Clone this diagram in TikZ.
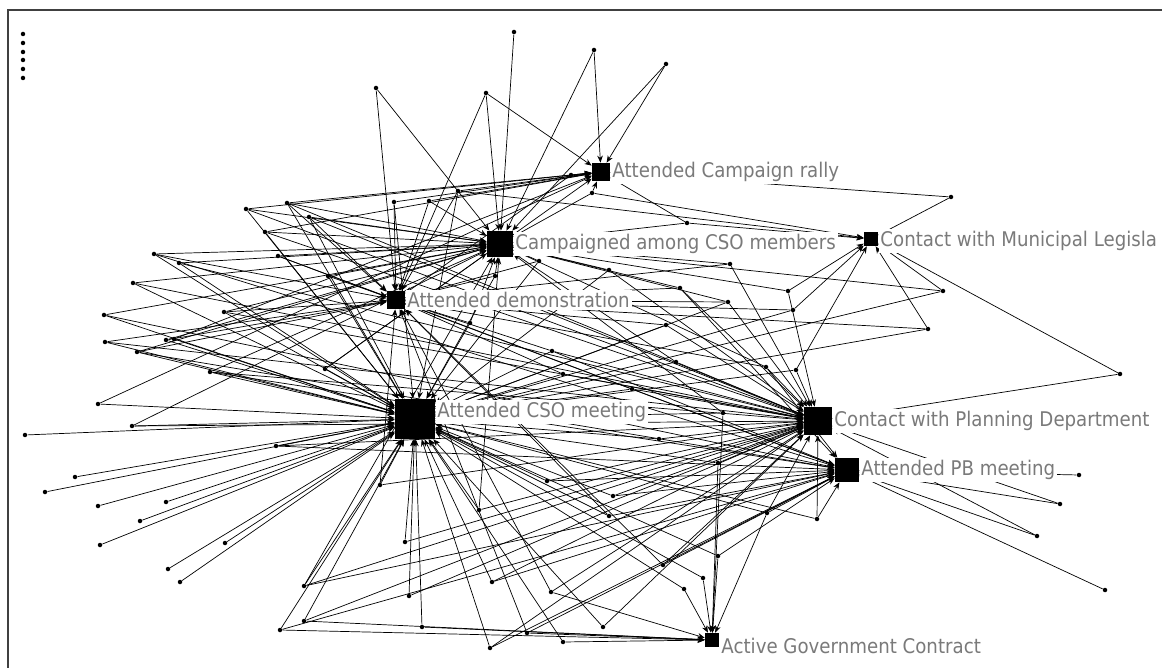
\documentclass[tikz,border=0pt]{standalone}
\usepackage{fontspec}
\setmainfont{DejaVu Sans}[FakeStretch=0.9]
\usetikzlibrary{positioning,arrows.meta}

\tikzset{
  hub/.style={fill=black,inner sep=0pt},
  actor/.style={circle,fill=black,inner sep=0pt,minimum size=0.09cm},
  tie/.style={-{Stealth[length=4pt,width=3.2pt]},line width=0.4pt},
  lab/.style={fill=white,text=black!52,inner sep=1pt,font=\fontsize{11.5}{13}\selectfont},
}

\begin{document}
\begin{tikzpicture}[x=0.02cm,y=-0.02cm]
     \useasboundingbox (0,0) rectangle (1162,668);
     \clip (0,0) rectangle (1162,668);
     \draw[black!75,line width=1pt] (8,668) -- (8,10) -- (1162,10);

     % events
     \node[hub,minimum size=0.36cm] (R) at (601,172) {};
     \node[hub,minimum size=0.52cm] (C) at (500,244) {};
     \node[hub,minimum size=0.28cm] (M) at (871,239) {};
     \node[hub,minimum size=0.36cm] (D) at (396,300) {};
     \node[hub,minimum size=0.80cm] (S) at (415,419) {};
     \node[hub,minimum size=0.56cm] (P) at (818,421) {};
     \node[hub,minimum size=0.48cm] (B) at (847,470) {};
     \node[hub,minimum size=0.28cm] (G) at (712,640) {};

     % isolates
     \foreach \n/\y in {i1/34,i2/43,i3/52,i4/60,i5/69,i6/78}
         \node[actor] (\n) at (23,\y) {};

     % actors and their ties
     \foreach \n/\x/\y/\hubs in {
         a1/376/88/{D,C}, a2/486/93/{R,C,D}, a3/594/50/{R,C}, a4/666/64/{R,C},
         a5/514/32/{C}, a6/246/209/{R,C,S,P}, a7/287/203/{R,C,D,S,P},
         a8/309/217/{C,D,S,P}, a9/265/232/{R,C,S,P}, a10/154/254/{C,S,D,B},
         a11/179/263/{C,S,P}, a12/278/256/{C,D,B}, a13/133/283/{C,S,P},
         a14/328/276/{D,S,C}, a15/104/315/{C,S,B}, a16/224/312/{C,D,S,P},
         a17/105/342/{D,S,P}, a18/166/340/{C,S,D}, a19/174/339/{R,S},
         a20/137/352/{S,D,C,B}, a21/210/372/{S,C,P,B}, a22/325/369/{S,C,R},
         a23/98/404/{S,R}, a24/132/426/{S,C,P}, a25/25/435/{S},
         a26/276/446/{S,P,B}, a27/380/485/{S,D,P}, a28/75/477/{S},
         a29/45/492/{S}, a30/98/506/{S}, a31/166/502/{S}, a32/140/521/{S},
         a33/100/545/{S}, a34/225/543/{S}, a35/168/569/{S}, a36/180/582/{S},
         a37/304/586/{S,C,B,P}, a38/304/621/{S,G,P}, a39/280/630/{S,G,B},
         a40/458/191/{R,D,S,M}, a41/394/202/{R,D,S}, a42/429/201/{R,C,D},
         a43/592/193/{R,C,M}, a44/571/175/{R,D}, a45/687/223/{R,C,M},
         a46/730/264/{C,D,P}, a47/609/270/{C,S,P}, a48/680/288/{C,D,P,B},
         a49/539/261/{C,D,S}, a50/495/276/{C,D,S}, a51/728/302/{D,C,S,P},
         a52/666/325/{D,S,P}, a53/470/323/{D,S,C}, a54/788/291/{C,M,P},
         a55/793/310/{D,M,S}, a56/796/370/{M,S,P}, a57/943/291/{M,C,S},
         a58/928/329/{M,D,S}, a59/1120/374/{M,P}, a60/951/197/{R,M},
         a61/552/351/{D,S,P,B}, a62/676/362/{C,S,P}, a63/766/367/{C,D,P,B},
         a64/563/374/{D,P,S}, a65/632/389/{S,D,P,B}, a66/723/413/{S,G,C},
         a67/659/439/{S,P}, a68/718/463/{S,G,P}, a69/547/481/{S,P,B},
         a70/613/496/{S,P,B}, a71/479/510/{S,C,P}, a72/609/516/{S,D,B},
         a73/767/513/{S,P,B,G}, a74/405/542/{S,P}, a75/718/556/{S,G,B},
         a76/663/565/{D,P,B}, a77/703/578/{S,G}, a78/492/582/{S,P,B},
         a79/684/589/{S,G}, a80/409/596/{S,P}, a81/551/592/{D,G,P},
         a82/422/627/{S,G}, a83/603/627/{S,P}, a84/527/633/{D,G,B},
         a85/563/642/{S,G}, a86/490/648/{S,P,B}, a87/817/519/{P,B,S},
         a88/1079/475/{B}, a89/1060/504/{B,P}, a90/1037/536/{B,P},
         a91/1105/590/{B}}
     {
         \node[actor] (\n) at (\x,\y) {};
         \foreach \h in \hubs
             \draw[tie] (\n) -- (\h);
     }

     % labels
     \node[lab,right=0pt of R] (Rl) {Attended Campaign rally};
     \node[lab,right=0pt of C] (Cl) {Campaigned among CSO members};
     \node[lab,right=0pt of M,yshift=-0.04cm] (Ml) {Contact with Municipal Legisla};
     \node[lab,right=0pt of D] (Dl) {Attended demonstration};
     \node[lab,right=0pt of S,yshift=0.14cm] (Sl) {Attended CSO meeting};
     \node[lab,right=0pt of P] (Pl) {Contact with Planning Department};
     \node[lab,right=0pt of B] (Bl) {Attended PB meeting};
     \node[lab,right=0pt of G,yshift=-0.12cm] (Gl) {Active Government Contract};
\end{tikzpicture}
\end{document}
